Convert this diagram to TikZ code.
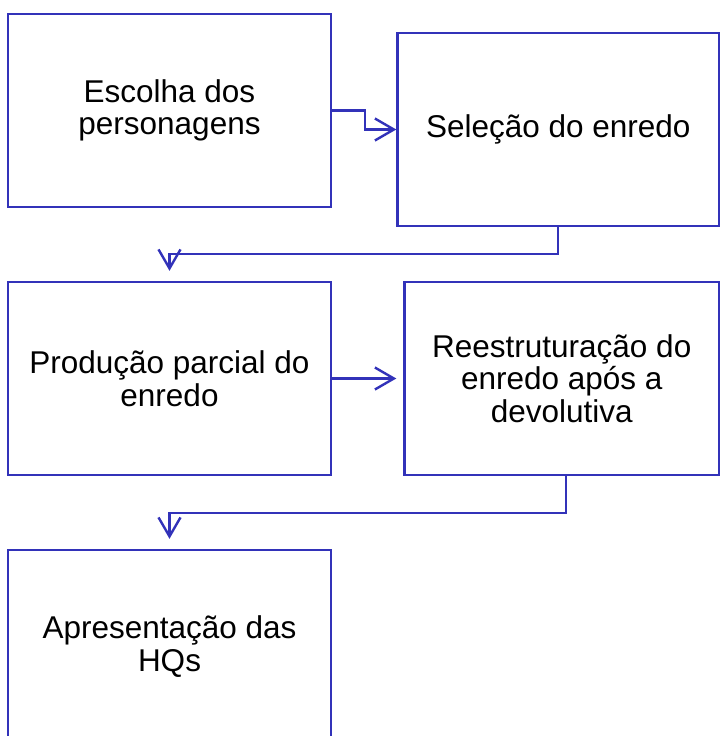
\documentclass[tikz,border=0pt]{standalone}
\usepackage{fontspec}
\setmainfont{Liberation Sans}
\usetikzlibrary{arrows.meta}
\definecolor{ln}{RGB}{50,50,185}
\tikzset{
  box/.style={draw=ln, line width=2.4pt, inner sep=0pt, align=center,
    minimum height=193pt, font=\fontsize{31.5}{32.5}\selectfont},
  arr/.style={draw=ln, line width=2.4pt,
    -{Straight Barb[length=19pt,width=22pt,line width=2.4pt]}}
}
\begin{document}
\begin{tikzpicture}[x=1pt,y=-1pt]
\useasboundingbox (0,0) rectangle (721,736);
\begin{scope}
\clip (0,0) rectangle (721,736);
\node[box, minimum width=323pt] (b1) at (169.5,110.5) {Escolha dos\\personagens};
\node[box, minimum width=321.5pt] (b2) at (558.25,129.5) {Seleção do enredo};
\node[box, minimum width=323pt] (b3) at (169.5,378.5) {Produção parcial do\\enredo};
\node[box, minimum width=314.5pt] (b4) at (561.75,378.5) {Reestruturação do\\enredo após a\\devolutiva};
\node[box, minimum width=323pt] (b5) at (169.5,646.5) {Apresentação das\\HQs};
\end{scope}
\draw[arr] (b1.east) -- ++(33,0) |- (b2.west);
\draw[arr] (b2.south) -- ++(0,26.5) -| ([yshift=10pt]b3.north);
\draw[arr, shorten >=7pt] (b3.east) -- (b4.west);
\draw[arr] ([xshift=4.5pt]b4.south) -- ++(0,37) -| ([yshift=10pt]b5.north);
\end{tikzpicture}
\end{document}
